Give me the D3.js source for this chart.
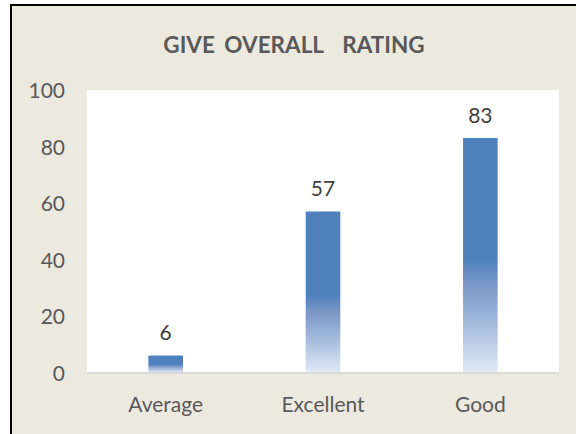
<!DOCTYPE html>
<html><head><meta charset="utf-8">
<script src="https://cdn.jsdelivr.net/npm/d3@7/dist/d3.min.js"></script>
<style>
html,body{margin:0;padding:0;background:#fff;}
svg{display:block;}
</style></head>
<body>
<script>
const categories = ["Average", "Excellent", "Good"];
const values = [6, 57, 83];
const yTicks = [0, 20, 40, 60, 80, 100];
const title = "GIVE OVERALL  RATING";

const W = 576, H = 434;
const font = "Lato, 'Open Sans', sans-serif";
const svg = d3.select("body").append("svg").attr("width", W).attr("height", H);

// chart background
svg.append("rect").attr("x", 11).attr("y", 5).attr("width", W - 11).attr("height", H - 5).attr("fill", "#ece9df");
svg.append("line").attr("x1", 11).attr("x2", 11).attr("y1", 4).attr("y2", H).attr("stroke", "#000").attr("stroke-width", 2);
svg.append("line").attr("x1", 10).attr("x2", W).attr("y1", 5).attr("y2", 5).attr("stroke", "#000").attr("stroke-width", 2);

const plot = {x0: 87, x1: 559, y0: 90, y1: 372.5};
svg.append("rect").attr("x", plot.x0).attr("y", plot.y0).attr("width", plot.x1 - plot.x0).attr("height", plot.y1 - plot.y0).attr("fill", "#fff");

const x = d3.scaleBand().domain(categories).range([plot.x0, plot.x1]).paddingInner(0.78).paddingOuter(0.39);
const y = d3.scaleLinear().domain([0, 100]).range([plot.y1, plot.y0]);

const defs = svg.append("defs");
const grad = defs.append("linearGradient").attr("id", "barGrad").attr("x1", 0).attr("y1", 0).attr("x2", 0).attr("y2", 1);
[[0, "#4f81bd"], [0.52, "#4f81bd"], [0.62, "#7896c5"], [0.8, "#a6bddd"], [1, "#e1eaf5"]].forEach(s =>
  grad.append("stop").attr("offset", s[0]).attr("stop-color", s[1]));

svg.append("g").selectAll("rect").data(values).join("rect")
  .attr("x", (d, i) => x(categories[i]))
  .attr("width", x.bandwidth())
  .attr("y", d => y(d))
  .attr("height", d => y(0) - y(d))
  .attr("fill", "url(#barGrad)");

// axis line
svg.append("line").attr("x1", plot.x0).attr("x2", plot.x1).attr("y1", y(0) + 0.5).attr("y2", y(0) + 0.5)
  .attr("stroke", "#d9d9d9").attr("stroke-width", 2);

// y axis
const yAxis = d3.axisLeft(y).tickValues(yTicks).tickSize(0).tickPadding(0);
const gy = svg.append("g").attr("transform", `translate(65,0)`).call(yAxis);
gy.select(".domain").remove();
gy.selectAll("text").attr("font-family", font).attr("font-size", 21).attr("fill", "#595959").attr("dy", "0.36em");

// x axis
const xAxis = d3.axisBottom(x).tickSize(0).tickPadding(0);
const gx = svg.append("g").attr("transform", `translate(0,${plot.y1})`).call(xAxis);
gx.select(".domain").remove();
gx.selectAll("text").attr("font-family", font).attr("font-size", 21).attr("fill", "#595959").attr("dy", null).attr("y", 39.5);

// data labels
svg.append("g").selectAll("text").data(values).join("text")
  .attr("x", (d, i) => x(categories[i]) + x.bandwidth() / 2)
  .attr("y", d => y(d) - 15.5)
  .attr("text-anchor", "middle")
  .attr("font-family", font).attr("font-size", 21).attr("fill", "#404040")
  .text(d => d);

// title
svg.append("text").attr("x", 294).attr("y", 52.5).attr("text-anchor", "middle")
  .attr("font-family", font).attr("font-size", 22.5).attr("font-weight", "bold").attr("fill", "#595959")
  .attr("word-spacing", 4)
  .style("white-space", "pre").text(title);
</script>
</body></html>
